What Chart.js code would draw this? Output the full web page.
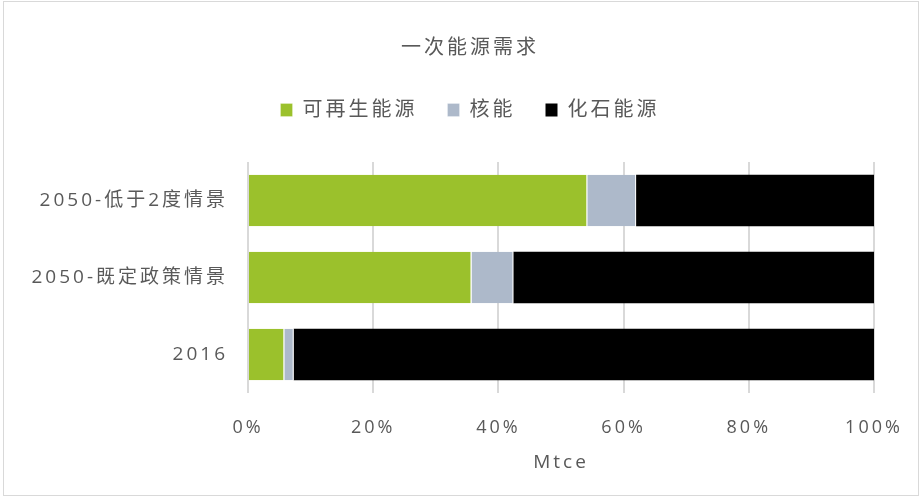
<!DOCTYPE html>
<html>
<head>
<meta charset="utf-8">
<title>一次能源需求</title>
<script src="https://cdn.jsdelivr.net/npm/chart.js@4"></script>
<style>
  html, body { margin: 0; padding: 0; background: #fff; }
  #wrap { position: relative; width: 921px; height: 497px; }
  #frame { position: absolute; left: 3px; top: 1px; width: 914px; height: 493px; border: 1px solid #d9d9d9; pointer-events: none; }
</style>
</head>
<body>
<div id="wrap">
  <canvas id="myChart" width="921" height="497"></canvas>
  <div id="frame"></div>
</div>
<script>
// categorias (de arriba hacia abajo) y participacion de cada fuente en %
const categories = ["2050-低于2度情景", "2050-既定政策情景", "2016"];
const renovables = [54.2, 35.7, 5.8];
const nuclear = [7.8, 6.7, 1.5];
const fosil = [38.0, 57.6, 92.7];
const xTicks = [0, 20, 40, 60, 80, 100];

const textColor = "#595959";
const fontFamily = "'Open Sans', 'Noto Sans CJK SC', sans-serif";

// espaciado entre letras para el texto chino
const spacingPlugin = {
  id: "spacing",
  beforeUpdate(chart) { chart.ctx.letterSpacing = "3px"; },
  beforeDraw(chart) { chart.ctx.letterSpacing = "3px"; },
};

// mas aire entre la leyenda y las barras, y titulo/leyenda un poco a la derecha
const legendGap = {
  id: "legendGap",
  beforeInit(chart) {
    const fit = chart.legend.fit;
    chart.legend.fit = function () {
      fit.bind(chart.legend)();
      this.height += 32;
    };
  },
  afterLayout(chart) {
    [chart.titleBlock, chart.legend].forEach((box) => {
      box.left += 30;
      box.right += 30;
    });
  },
};

const ctx = document.getElementById("myChart").getContext("2d");
const chart = new Chart(ctx, {
  type: "bar",
  data: {
    labels: categories,
    datasets: [
      { label: "可再生能源", data: renovables, backgroundColor: "#9bc12c", borderColor: "#ffffff", borderWidth: { right: 1 }, borderSkipped: false },
      { label: "核能", data: nuclear, backgroundColor: "#adb9ca", borderColor: "#ffffff", borderWidth: { right: 1 }, borderSkipped: false },
      { label: "化石能源", data: fosil, backgroundColor: "#000000", borderWidth: 0 },
    ],
  },
  options: {
    indexAxis: "y",
    responsive: false,
    animation: false,
    layout: { padding: { left: 6, right: 47, top: 36, bottom: 23 } },
    datasets: { bar: { categoryPercentage: 1, barPercentage: 0.67 } },
    plugins: {
      title: {
        display: true,
        text: "一次能源需求",
        color: textColor,
        font: { family: fontFamily, size: 20, weight: "normal" },
        padding: { top: 0, bottom: 10 },
      },
      legend: {
        position: "top",
        labels: {
          color: textColor,
          font: { family: fontFamily, size: 20 },
          boxWidth: 12,
          boxHeight: 13,
          padding: 30,
        },
      },
      tooltip: { enabled: false },
    },
    scales: {
      x: {
        stacked: true,
        min: 0,
        max: 100,
        afterBuildTicks(scale) { scale.ticks = xTicks.map((v) => ({ value: v })); },
        afterFit(scale) {
          scale.height = 81;
          scale.paddingLeft = 0;
          scale.paddingRight = 0;
        },
        ticks: {
          color: textColor,
          font: { family: fontFamily, size: 18 },
          padding: 24,
          callback: (v) => v + "%",
        },
        grid: { color: "#d9d9d9", lineWidth: 2, drawTicks: false },
        border: { display: false },
        title: {
          display: true,
          text: "Mtce",
          color: textColor,
          font: { family: fontFamily, size: 19 },
          padding: { top: 0, bottom: 0 },
        },
      },
      y: {
        stacked: true,
        afterFit(scale) { scale.width = 242; },
        grid: { display: false },
        border: { display: false },
        ticks: {
          color: textColor,
          font: { family: fontFamily, size: 19 },
          padding: 12,
        },
      },
    },
  },
  plugins: [spacingPlugin, legendGap],
});
</script>
</body>
</html>
